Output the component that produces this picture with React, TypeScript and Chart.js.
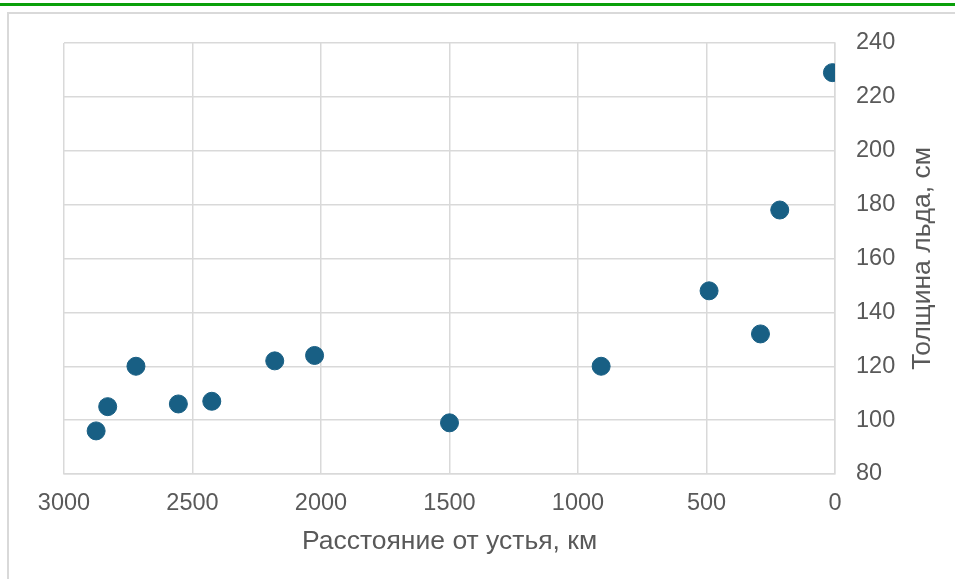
import React, { useEffect, useRef } from 'react';
import { Chart, registerables } from 'chart.js';

Chart.register(...registerables);

// Data
const distanceKm = [2875, 2830, 2720, 2555, 2425, 2180, 2025, 1500, 910, 490, 290, 215, 10];
const iceThicknessCm = [96, 105, 120, 106, 107, 122, 124, 99, 120, 148, 132, 178, 229];
const xAxisTitle = 'Расстояние от устья, км';
const yAxisTitle = 'Толщина льда, см';
const xMin = 0;
const xMax = 3000;
const xStep = 500;
const yMin = 80;
const yMax = 240;
const yStep = 20;

const FONT = '"Liberation Sans", Arial, sans-serif';
const TEXT = '#595959';
const GRID = '#d9d9d9';
const MARK = '#185f84';

const framePlugin = {
  id: 'frame',
  beforeDraw(chart: any) {
    const { ctx, width, height } = chart;
    ctx.save();
    ctx.fillStyle = '#ffffff';
    ctx.fillRect(0, 0, width, height);
    ctx.fillStyle = '#0aa00a';
    ctx.fillRect(0, 3, width, 3);
    ctx.strokeStyle = GRID;
    ctx.lineWidth = 2;
    ctx.beginPath();
    ctx.moveTo(8, height + 2);
    ctx.lineTo(8, 13);
    ctx.lineTo(width + 2, 13);
    ctx.stroke();
    ctx.restore();
  },
  afterDraw(chart: any) {
    const { ctx, chartArea } = chart;
    ctx.save();
    ctx.fillStyle = TEXT;
    ctx.font = `26.5px ${FONT}`;
    ctx.textAlign = 'center';
    ctx.textBaseline = 'alphabetic';
    ctx.fillText(xAxisTitle, (chartArea.left + chartArea.right) / 2, 549);
    ctx.translate(930, (chartArea.top + chartArea.bottom) / 2);
    ctx.rotate(-Math.PI / 2);
    ctx.fillText(yAxisTitle, 0, 0);
    ctx.restore();
  },
};

export default function App() {
  const canvasRef = useRef<HTMLCanvasElement | null>(null);

  useEffect(() => {
    if (!canvasRef.current) return;
    const points = distanceKm.map((x, i) => ({ x, y: iceThicknessCm[i] }));
    const chart = new Chart(canvasRef.current, {
      type: 'scatter',
      data: {
        datasets: [
          {
            data: points,
            backgroundColor: MARK,
            borderColor: MARK,
            borderWidth: 1,
            pointRadius: 9,
            pointHoverRadius: 9,
          },
        ],
      },
      options: {
        animation: false,
        responsive: false,
        events: [],
        layout: { padding: { left: 64, top: 43, right: 0, bottom: 0 } },
        plugins: { legend: { display: false }, tooltip: { enabled: false } },
        scales: {
          x: {
            type: 'linear',
            reverse: true,
            min: xMin,
            max: xMax,
            afterFit: (s: any) => {
              s.height = 105;
            },
            ticks: {
              stepSize: xStep,
              color: TEXT,
              font: { family: FONT, size: 23.5 },
              padding: 15,
              maxRotation: 0,
              callback: (v: any) => String(v),
            },
            grid: { color: GRID, lineWidth: 1.5, drawTicks: false },
            border: { color: GRID, width: 1.5 },
          },
          y: {
            type: 'linear',
            position: 'right',
            min: yMin,
            max: yMax,
            afterFit: (s: any) => {
              s.width = 120;
            },
            ticks: {
              stepSize: yStep,
              color: TEXT,
              font: { family: FONT, size: 23.5 },
              padding: 21,
              callback: (v: any) => String(v),
            },
            grid: { color: GRID, lineWidth: 1.5, drawTicks: false },
            border: { color: GRID, width: 1.5 },
          },
        },
      },
      plugins: [framePlugin],
    });
    return () => chart.destroy();
  }, []);

  return (
    <div style={{ position: 'absolute', left: 0, top: 0, width: 955, height: 579 }}>
      <canvas ref={canvasRef} width={955} height={579} style={{ display: 'block' }} />
    </div>
  );
}
